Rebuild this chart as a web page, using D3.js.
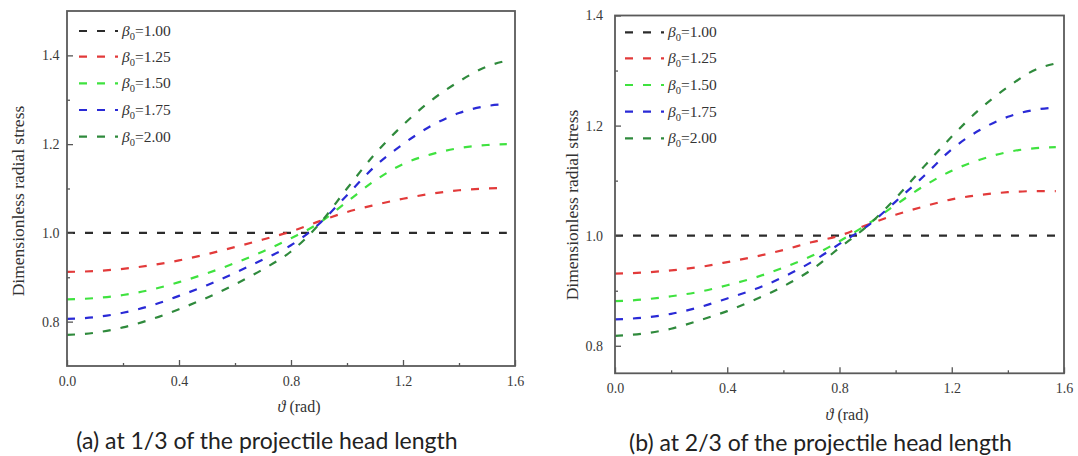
<!DOCTYPE html>
<html>
<head>
<meta charset="utf-8">
<script src="https://cdn.jsdelivr.net/npm/d3@7"></script>
<style>
  html, body { margin: 0; padding: 0; background: #fff; }
  svg { display: block; }
</style>
</head>
<body>
<svg id="chart" width="1078" height="456"></svg>
<script>
// Angle samples (rad) shared by every curve
const theta = [0, 0.1, 0.2, 0.3, 0.4, 0.5, 0.6, 0.7, 0.8, 0.9, 1.0, 1.1, 1.2, 1.3, 1.4, 1.5, 1.5708];

const betaLabels = ["1.00", "1.25", "1.50", "1.75", "2.00"];
const seriesColors = ["#2b2b2b", "#e23a3a", "#3fe23f", "#2a2ad6", "#2f8a3c"];

// (a) at 1/3 of the projectile head length
const stressA100 = [1, 1, 1, 1, 1, 1, 1, 1, 1, 1, 1, 1, 1, 1, 1, 1, 1];
const stressA125 = [0.912, 0.914, 0.919, 0.927, 0.938, 0.952, 0.968, 0.985, 1.003, 1.026, 1.047, 1.063, 1.077, 1.088, 1.096, 1.100, 1.101];
const stressA150 = [0.850, 0.853, 0.860, 0.872, 0.889, 0.909, 0.932, 0.958, 0.988, 1.022, 1.070, 1.118, 1.155, 1.177, 1.191, 1.198, 1.200];
const stressA175 = [0.806, 0.810, 0.820, 0.836, 0.858, 0.882, 0.910, 0.940, 0.972, 1.020, 1.085, 1.150, 1.200, 1.241, 1.270, 1.286, 1.290];
const stressA200 = [0.770, 0.775, 0.787, 0.805, 0.828, 0.854, 0.884, 0.918, 0.958, 1.019, 1.100, 1.178, 1.243, 1.298, 1.341, 1.375, 1.388];

// (b) at 2/3 of the projectile head length
const stressB100 = [1, 1, 1, 1, 1, 1, 1, 1, 1, 1, 1, 1, 1, 1, 1, 1, 1];
const stressB125 = [0.931, 0.933, 0.937, 0.943, 0.952, 0.962, 0.974, 0.988, 1.000, 1.020, 1.038, 1.053, 1.066, 1.074, 1.079, 1.081, 1.081];
const stressB150 = [0.881, 0.884, 0.890, 0.898, 0.910, 0.924, 0.942, 0.963, 0.990, 1.021, 1.056, 1.090, 1.118, 1.138, 1.152, 1.159, 1.161];
const stressB175 = [0.848, 0.851, 0.858, 0.870, 0.886, 0.903, 0.925, 0.952, 0.985, 1.018, 1.062, 1.108, 1.157, 1.192, 1.216, 1.229, 1.233];
const stressB200 = [0.818, 0.822, 0.831, 0.846, 0.863, 0.884, 0.908, 0.938, 0.978, 1.018, 1.068, 1.125, 1.180, 1.230, 1.270, 1.302, 1.313];

const xTicks = [0, 0.4, 0.8, 1.2, 1.6];
const xMinorTicks = [0.2, 0.6, 1.0, 1.4];
const yTicks = [0.8, 1.0, 1.2, 1.4];
const yMinorTicks = [0.9, 1.1, 1.3];

const yTitle = "Dimensionless radial stress";
const captionA = "(a) at 1/3 of the projectile head length";
const captionB = "(b) at 2/3 of the projectile head length";

const svg = d3.select("#chart");
const serif = "'Liberation Serif', 'Times New Roman', serif";
const sans = "Lato, 'Open Sans', sans-serif";

function styleAxis(sel) {
  sel.attr("font-family", serif).attr("font-size", 14);
  sel.selectAll(".tick text").attr("fill", "#3a3a3a").style("font-family", serif).style("font-size", "14px");
  sel.selectAll(".tick line").attr("stroke", "#555").attr("stroke-width", 1.3);
  sel.select(".domain").remove();
}

function drawPanel(p) {
  const x = d3.scaleLinear().domain([0, 1.6]).range([p.left, p.right]);
  const y = d3.scaleLinear().domain(p.yDomain).range([p.bottom, p.top]);
  const g = svg.append("g");

  // curves
  const line = d3.line()
    .x((d, i) => x(theta[i]))
    .y(d => y(d))
    .curve(d3.curveMonotoneX);
  p.series.forEach((s, k) => {
    g.append("path")
      .attr("d", line(s))
      .attr("fill", "none")
      .attr("stroke", seriesColors[k])
      .attr("stroke-width", 2.2)
      .attr("stroke-dasharray", "8,10");
  });

  // axes: ticks point inward
  const fmt = d3.format(".1f");
  g.append("g").attr("transform", `translate(0,${p.bottom})`)
    .call(d3.axisBottom(x).tickValues(xTicks).tickFormat(fmt).tickSize(-6).tickSizeOuter(0).tickPadding(10))
    .call(styleAxis);
  g.append("g").attr("transform", `translate(0,${p.bottom})`)
    .call(d3.axisBottom(x).tickValues(xMinorTicks).tickFormat("").tickSize(-3).tickSizeOuter(0))
    .call(styleAxis);
  g.append("g").attr("transform", `translate(${p.left},0)`)
    .call(d3.axisLeft(y).tickValues(yTicks).tickFormat(fmt).tickSize(-6).tickSizeOuter(0).tickPadding(p.yPad))
    .call(styleAxis);
  g.append("g").attr("transform", `translate(${p.left},0)`)
    .call(d3.axisLeft(y).tickValues(yMinorTicks).tickFormat("").tickSize(-3).tickSizeOuter(0))
    .call(styleAxis);

  // frame
  g.append("rect")
    .attr("x", p.left).attr("y", p.top)
    .attr("width", p.right - p.left).attr("height", p.bottom - p.top)
    .attr("fill", "none").attr("stroke", "#5a5a5a").attr("stroke-width", 1.8);

  // legend
  p.series.forEach((s, k) => {
    const ly = p.legendRows[k];
    g.append("line")
      .attr("x1", p.legendX0).attr("x2", p.legendX1)
      .attr("y1", ly).attr("y2", ly)
      .attr("stroke", seriesColors[k]).attr("stroke-width", 2.2)
      .attr("stroke-dasharray", "8,10");
    const t = g.append("text")
      .attr("x", p.legendTextX).attr("y", ly + 5)
      .style("font-family", serif).style("font-size", "15.5px").attr("fill", "#333");
    t.append("tspan").attr("font-style", "italic").text("β");
    t.append("tspan").style("font-size", "10.5px").attr("dy", 4).text("0");
    t.append("tspan").attr("dy", -4).text("=" + betaLabels[k]);
  });

  // axis titles
  g.append("text")
    .attr("transform", `translate(${p.yTitleX},${p.yTitleY}) rotate(-90)`)
    .attr("text-anchor", "middle")
    .style("font-family", serif).style("font-size", "17.5px").attr("fill", "#333")
    .text(yTitle);
  const xt = g.append("text")
    .attr("x", p.xTitleX).attr("y", p.xTitleY)
    .attr("text-anchor", "middle")
    .style("font-family", serif).style("font-size", "16px").attr("fill", "#333");
  xt.append("tspan").attr("font-style", "italic").text("ϑ");
  xt.append("tspan").text(" (rad)");

  // caption
  g.append("text")
    .attr("x", p.captionX).attr("y", p.captionY)
    .attr("text-anchor", "middle")
    .style("font-family", sans).style("font-size", "23px").attr("fill", "#222")
    .text(p.caption);
}

drawPanel({
  left: 67, right: 515, top: 11, bottom: 366,
  yDomain: [0.7, 1.5], yPad: 7.5,
  series: [stressA100, stressA125, stressA150, stressA175, stressA200],
  legendX0: 79, legendX1: 118, legendTextX: 122,
  legendRows: [31, 56.7, 83.3, 110, 136.7],
  yTitleX: 24, yTitleY: 201,
  xTitleX: 299, xTitleY: 412,
  captionX: 267, captionY: 449,
  caption: captionA
});

drawPanel({
  left: 615, right: 1064, top: 15.5, bottom: 373.3,
  yDomain: [0.75, 1.4], yPad: 12,
  series: [stressB100, stressB125, stressB150, stressB175, stressB200],
  legendX0: 625, legendX1: 664, legendTextX: 668,
  legendRows: [32.3, 58.3, 85, 111.7, 138.3],
  yTitleX: 578, yTitleY: 205,
  xTitleX: 847, xTitleY: 420,
  captionX: 820.5, captionY: 451,
  caption: captionB
});
</script>
</body>
</html>
